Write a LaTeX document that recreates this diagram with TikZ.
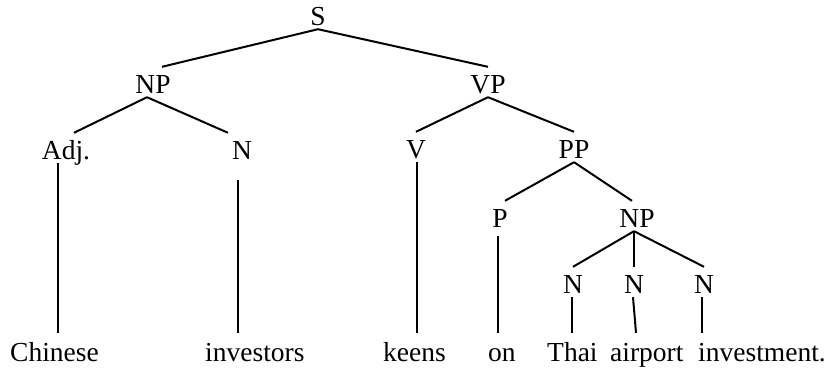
\documentclass[tikz,border=0pt]{standalone}
\usepackage{fontspec}
\setmainfont{Liberation Serif}
\usetikzlibrary{calc}
\tikzset{
  lbl/.style={font=\fontsize{27.5}{33}\selectfont,anchor=base,inner xsep=0pt,inner ysep=4pt,text height=22pt,text depth=0pt},
  word/.style={lbl,anchor=base west,inner ysep=6pt},
  branch/.style={line width=2pt}
}
\begin{document}
\begin{tikzpicture}[x=1pt,y=-1pt]
\useasboundingbox (0,0) rectangle (833,368);
\node[lbl] at (318,25) (s) {S};
\node[lbl] at (153,93) (np) {NP};
\node[lbl] at (488,93) (vp) {VP};
\node[lbl] at (66,159) (adj) {Adj.};
\node[lbl] at (242,159) (n) {N};
\node[lbl] at (416,158) (v) {V};
\node[lbl] at (574,158) (pp) {PP};
\node[lbl] at (500,227) (p) {P};
\node[lbl] at (637,227) (npp) {NP};
\node[lbl] at (573,293) (na) {N};
\node[lbl] at (634,293) (nb) {N};
\node[lbl] at (704,293) (nc) {N};
\node[word] at (10,361) (chinese) {Chinese};
\node[word] at (205,361) (investors) {investors};
\node[word] at (383,361) (keens) {keens};
\node[word] at (488,361) (on) {on};
\node[word] at (547,361) (thai) {Thai};
\node[word] at (610,361) (airport) {airport};
\node[word] at (698,361) (investment) {investment.};
\draw[branch] (s.south) -- ($(np.north)+(9,0)$);
\draw[branch] (s.south) -- (vp.north);
\draw[branch] ($(np.south)+(-6,0)$) -- ($(adj.north)+(8,0)$);
\draw[branch] ($(np.south)+(-6,0)$) -- ($(n.north)+(-14,0)$);
\draw[branch] (vp.south) -- (v.north);
\draw[branch] (vp.south) -- (pp.north);
\draw[branch] (pp.south) -- ($(p.north)+(5,0)$);
\draw[branch] (pp.south) -- ($(npp.north)+(-5,0)$);
\draw[branch] ($(npp.south)+(-3,0)$) -- (na.north);
\draw[branch] ($(npp.south)+(-3,0)$) -- (nb.north);
\draw[branch] ($(npp.south)+(-3,0)$) -- (nc.north);
\draw[branch] ($(adj.south)+(-8,0)$) -- ($(chinese.north west)+(48,0)$);
\draw[branch] ($(n.south)+(-4,17)$) -- ($(investors.north west)+(33,0)$);
\draw[branch] ($(v.south)+(1,0)$) -- ($(keens.north west)+(34,0)$);
\draw[branch] ($(p.south)+(-2,5)$) -- ($(on.north west)+(10,0)$);
\draw[branch] ($(na.south)+(-1,0)$) -- ($(thai.north west)+(25,0)$);
\draw[branch] ($(nb.south)+(-1,0)$) -- ($(airport.north west)+(26,0)$);
\draw[branch] ($(nc.south)+(-2,0)$) -- ($(investment.north west)+(4,0)$);
\end{tikzpicture}
\end{document}
